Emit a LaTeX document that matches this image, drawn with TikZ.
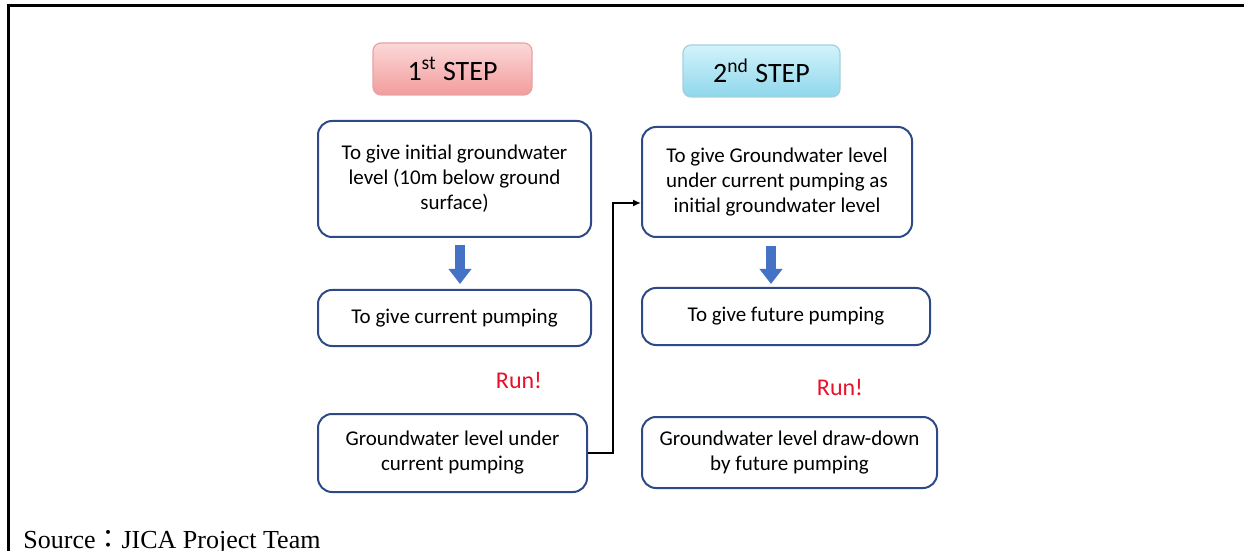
\documentclass[tikz,border=0pt]{standalone}
\usepackage{fontspec}
\usepackage{tikz}
\usetikzlibrary{arrows.meta}
\setmainfont{Liberation Serif}
\newfontfamily\boxfont{Carlito}
\newfontfamily\cjk{Noto Sans CJK TC}
\definecolor{pinktop}{HTML}{FCD8D8}
\definecolor{pinkbot}{HTML}{F29C9C}
\definecolor{pinkline}{HTML}{E7A3A3}
\definecolor{cyantop}{HTML}{D2F3FB}
\definecolor{cyanbot}{HTML}{8FD7EC}
\definecolor{cyanline}{HTML}{A6CFDC}
\definecolor{boxline}{HTML}{2E4A86}
\definecolor{runred}{HTML}{E8102A}
\definecolor{arrowblue}{HTML}{4472C4}

\begin{document}
\begin{tikzpicture}[x=0.5pt, y=-0.5pt,
	stepbox/.style={draw, line width=0.6pt, rounded corners=4pt, font=\boxfont\fontsize{14}{16}\selectfont, inner sep=0pt},
	flowbox/.style={draw=boxline, line width=1pt, rounded corners=7pt, align=center, font=\boxfont\fontsize{10.5}{12.5}\selectfont, inner sep=0pt},
	runlabel/.style={text=runred, font=\boxfont\fontsize{12}{14}\selectfont},
	bigarrow/.style={draw=arrowblue, line width=5pt, -{Triangle[width=11pt,length=7.5pt]}},
	link/.style={draw, line width=1pt, -{Latex[length=4pt,width=3.5pt]}}]
	\useasboundingbox (0,0) rectangle (1244,551);
	\draw[line width=1.5pt] (8,551) -- (8,5.5) -- (1244,5.5);

	\node[stepbox, draw=pinkline, top color=pinktop, bottom color=pinkbot, minimum width=79.5pt, minimum height=26pt] (s1) at (452.5,69) {1\textsuperscript{st} STEP};
	\node[stepbox, draw=cyanline, top color=cyantop, bottom color=cyanbot, minimum width=78.5pt, minimum height=26pt] (s2) at (761.5,71) {2\textsuperscript{nd} STEP};

	\node[flowbox, minimum width=136.5pt, minimum height=58pt] (a1) at (454.5,179) {To give initial groundwater\\level (10m below ground\\surface)};
	\node[flowbox, minimum width=136.5pt, minimum height=28pt] (a2) at (454.5,318) {To give current pumping};
	\node[runlabel] (r1) at (519,380) {Run!};
	\node[flowbox, minimum width=134.5pt, minimum height=39pt] (a3) at (452.5,453) {Groundwater level under\\current pumping};

	\node[flowbox, minimum width=135pt, minimum height=55pt] (b1) at (777,182) {To give Groundwater level\\under current pumping as\\initial groundwater level};
	\node[flowbox, minimum width=144pt, minimum height=28.5pt] (b2) at (786,316.5) {To give future pumping};
	\node[runlabel] (r2) at (840,387) {Run!};
	\node[flowbox, minimum width=147.5pt, minimum height=35.5pt] (b3) at (789.5,452.5) {Groundwater level draw-down\\by future pumping};

	% down arrows
	\coordinate (la) at ([xshift=2.75pt]a1.south);
	\coordinate (ra) at ([xshift=-3pt]b1.south);
	\draw[bigarrow] ([yshift=-3.5pt]la) -- ([yshift=2.5pt]la |- a2.north);
	\draw[bigarrow] ([yshift=-4pt]ra) -- ([yshift=1.5pt]ra |- b2.north);

	\coordinate (bend) at (613,203);
	\draw[link] (a3.east) -| (bend) -- (b1.west |- bend);

	\node[anchor=base west, inner sep=0pt, font=\fontsize{13}{15}\selectfont] (src) at (23,548) {Source{\cjk ：}JICA Project Team};
\end{tikzpicture}
\end{document}
